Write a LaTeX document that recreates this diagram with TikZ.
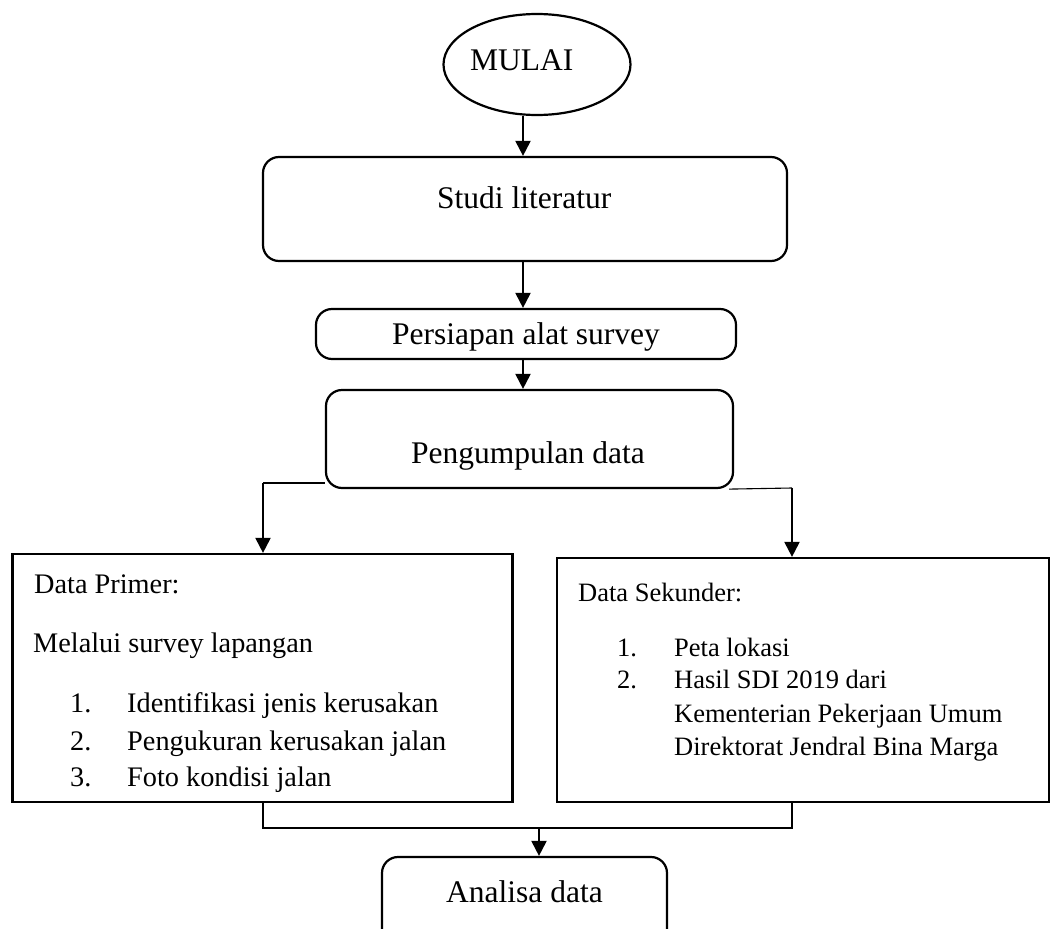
\documentclass[tikz,border=0pt]{standalone}
\usepackage{fontspec}
\setmainfont{Liberation Serif}
\usetikzlibrary{arrows.meta,shapes.geometric,calc}
\begin{document}
\begin{tikzpicture}[x=1pt,y=-1pt,
 box/.style={draw,line width=2.2pt,rounded corners=16pt,inner sep=0pt},
 sqbox/.style={draw,line width=2.2pt,inner sep=0pt},
 arr/.style={line width=2pt,-{Triangle[length=15pt,width=15pt]}},
 thinline/.style={line width=1.1pt},
 hd/.style={inner sep=0pt,anchor=base west,font=\fontsize{31.5}{38}\selectfont},
 lt/.style={inner sep=0pt,anchor=base west,font=\fontsize{28.3}{34}\selectfont},
 rt/.style={inner sep=0pt,anchor=base west,font=\fontsize{26.5}{32}\selectfont}]
\useasboundingbox (0,0) rectangle (1050,929);
\clip (0,0) rectangle (1050,929);
% nodes
\node[ellipse,draw,line width=2.2pt,minimum width=187pt,minimum height=101pt,inner sep=0pt] (mulai) at (537,64.5) {};
\node[hd] (tmulai) at (470,70) {MULAI};
\node[box,minimum width=524pt,minimum height=104pt] (studi) at (525,209) {};
\node[hd] (tstudi) at (437,208) {Studi literatur};
\node[box,minimum width=420pt,minimum height=50pt] (persiapan) at (526,334) {};
\node[hd,anchor=base] (tpersiapan) at (526,344) {Persiapan alat survey};
\node[box,minimum width=407pt,minimum height=98pt] (kumpul) at (529.5,439) {};
\node[hd] (tkumpul) at (411,463) {Pengumpulan data};
\node[sqbox,minimum width=500pt,minimum height=248pt] (primer) at (262.5,678) {};
\node[sqbox,minimum width=492pt,minimum height=244pt] (sekunder) at (803,680) {};
\node[box,minimum width=285pt,minimum height=110pt] (analisa) at (524.5,912) {};
\node[hd] (tanalisa) at (446,902) {Analisa data};
% left box text
\node[lt] (p1) at (34,593) {Data Primer:};
\node[lt] (p2) at (33,652) {Melalui survey lapangan};
\node[lt] (p3n) at (70,712) {1.};
\node[lt] (p3) at (127,712) {Identifikasi jenis kerusakan};
\node[lt] (p4n) at (70,750) {2.};
\node[lt] (p4) at (127,750) {Pengukuran kerusakan jalan};
\node[lt] (p5n) at (70,786) {3.};
\node[lt] (p5) at (127,786) {Foto kondisi jalan};
% right box text
\node[rt] (s1) at (578,601) {Data Sekunder:};
\node[rt] (s2n) at (617,656) {1.};
\node[rt] (s2) at (674,656) {Peta lokasi};
\node[rt] (s3n) at (617,688) {2.};
\node[rt] (s3) at (674,688) {Hasil SDI 2019 dari};
\node[rt] (s4) at (674,722) {Kementerian Pekerjaan Umum};
\node[rt] (s5) at (674,755) {Direktorat Jendral Bina Marga};
% coordinates
\coordinate (c1) at (523,0);
\coordinate (cl) at (263,483);
\coordinate (cr) at (792,488);
\coordinate (m) at (539,828);
% connectors
\draw[arr] (c1 |- mulai.south) -- (c1 |- studi.north);
\draw[arr] (c1 |- studi.south) -- (c1 |- persiapan.north);
\draw[arr] (c1 |- persiapan.south) -- (c1 |- kumpul.north);
\draw[thinline] (kumpul.west |- cl) -- (cl);
\draw[arr] (cl) -- (cl |- primer.north);
\draw[thinline] ($(kumpul.south east)+(-5,0)$) -- (cr);
\draw[arr] (cr) -- (cr |- sekunder.north);
\draw[thinline] (cl |- primer.south) -- (cl |- m) -- (cr |- m) -- (cr |- sekunder.south);
\draw[arr] (m) -- (m |- analisa.north);
\end{tikzpicture}
\end{document}
